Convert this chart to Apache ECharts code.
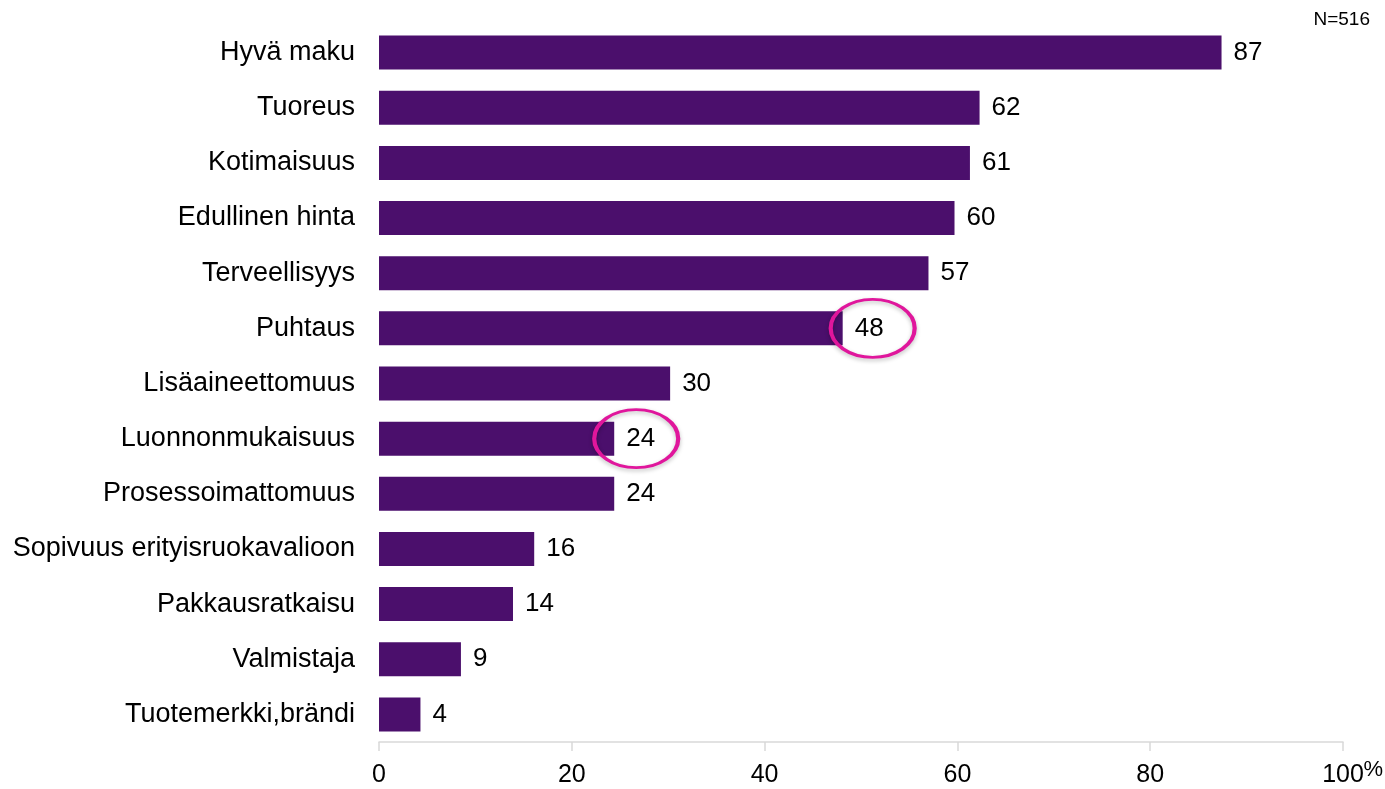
<!DOCTYPE html>
<html>
<head>
<meta charset="utf-8">
<script src="https://cdn.jsdelivr.net/npm/echarts@6/dist/echarts.min.js"></script>
<style>
html,body{margin:0;padding:0;background:#fff;}
#main{width:1385px;height:789px;}
</style>
</head>
<body>
<div id="main"></div>
<script>
var categories = ['Hyvä maku','Tuoreus','Kotimaisuus','Edullinen hinta','Terveellisyys','Puhtaus','Lisäaineettomuus','Luonnonmukaisuus','Prosessoimattomuus','Sopivuus erityisruokavalioon','Pakkausratkaisu','Valmistaja','Tuotemerkki,brändi'];
var values = [87.4, 62.3, 61.3, 59.7, 57.0, 48.1, 30.2, 24.4, 24.4, 16.1, 13.9, 8.5, 4.3];
var xTicks = [0, 20, 40, 60, 80, 100];
var highlighted = ['Puhtaus', 'Luonnonmukaisuus'];
var sampleNote = 'N=516';

var font = '"Liberation Sans", Arial, sans-serif';
var chart = echarts.init(document.getElementById('main'));

var marks = highlighted.map(function (c, i) {
  var idx = categories.indexOf(c);
  return {
    coord: [values[idx], c],
    symbolOffset: [i === 0 ? 30 : 22, 0]
  };
});

chart.setOption({
  animation: false,
  grid: { left: 379, right: 42, top: 25, bottom: 47, containLabel: false },
  xAxis: {
    type: 'value',
    min: xTicks[0],
    max: xTicks[xTicks.length - 1],
    interval: 20,
    axisLine: { show: true, lineStyle: { color: '#d9d9d9', width: 1.5 } },
    axisTick: { show: true, length: 9, lineStyle: { color: '#d9d9d9', width: 1.5 } },
    splitLine: { show: false },
    axisLabel: { color: '#000', fontFamily: font, fontSize: 25, margin: 21 }
  },
  yAxis: {
    type: 'category',
    inverse: true,
    data: categories,
    axisLine: { show: false },
    axisTick: { show: false },
    axisLabel: { color: '#000', fontFamily: font, fontSize: 27, margin: 24 }
  },
  series: [{
    type: 'bar',
    data: values,
    barWidth: 34,
    itemStyle: { color: '#4B0F6C' },
    label: {
      show: true,
      position: 'right',
      distance: 12,
      color: '#000',
      fontFamily: font,
      fontSize: 26,
      formatter: function (p) { return Math.round(p.value); }
    },
    markPoint: {
      symbol: 'circle',
      symbolSize: [84, 58],
      silent: true,
      label: { show: false },
      itemStyle: {
        color: 'rgba(255,255,255,0)',
        borderColor: '#E0169C',
        borderWidth: 3.5,
        shadowColor: 'rgba(0,0,0,0.25)',
        shadowBlur: 4,
        shadowOffsetY: 2
      },
      data: marks
    }
  }],
  graphic: [
    { type: 'text', right: 15, top: 10, style: { text: sampleNote, fontFamily: font, fontSize: 19, fill: '#000' } },
    { type: 'text', right: 2, top: 759, style: { text: '%', fontFamily: font, fontSize: 22, fill: '#000' } }
  ]
});
</script>
</body>
</html>
